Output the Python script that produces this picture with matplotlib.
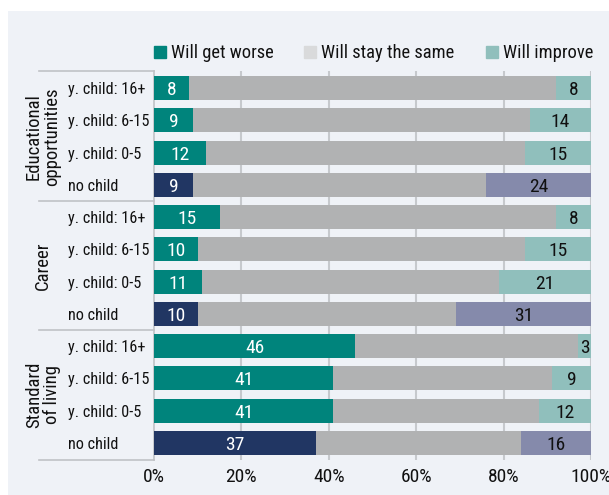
import matplotlib
matplotlib.use("Agg")
import matplotlib.pyplot as plt
from matplotlib.lines import Line2D
from matplotlib.patches import Rectangle
import matplotlib.transforms as mtransforms

plt.rcParams['font.family'] = ['Roboto Condensed', 'Archivo Narrow', 'DejaVu Sans']

groups = ["Educational\nopportunities", "Career", "Standard\nof living"]
categories = ["y. child: 16+", "y. child: 6-15", "y. child: 0-5", "no child"]
worse = [8, 9, 12, 9, 15, 10, 11, 10, 46, 41, 41, 37]
same = [84, 77, 73, 67, 77, 75, 68, 59, 51, 50, 47, 47]
improve = [8, 14, 15, 24, 8, 15, 21, 31, 3, 9, 12, 16]
is_no_child = [False, False, False, True] * 3
series_names = ["Will get worse", "Will stay the same", "Will improve"]
xticks = [0, 20, 40, 60, 80, 100]

TEAL = "#00847c"
NAVY = "#213663"
GREY = "#b1b2b3"
LTEAL = "#90bfbc"
LAV = "#858aab"
BG = "#eff2f7"
INK = "#111111"

W, H = 609, 495
fig = plt.figure(figsize=(W / 100, H / 100), dpi=100, facecolor="white")
fig.patches.append(Rectangle((8 / W, 0), 1 - 8 / W, 1 - 11 / H, transform=fig.transFigure,
                             facecolor=BG, edgecolor="none", zorder=-10))

ax = fig.add_axes([154 / W, 1 - 460 / H, 437 / W, 389 / H])
ax.set_facecolor("none")

n = len(worse)
ys = list(range(n))
c_worse = [NAVY if nc else TEAL for nc in is_no_child]
c_imp = [LAV if nc else LTEAL for nc in is_no_child]
left_same = [w for w in worse]
left_imp = [w + s for w, s in zip(worse, same)]

h = 0.745
ax.barh(ys, worse, height=h, color=c_worse, zorder=3)
ax.barh(ys, same, left=left_same, height=h, color=GREY, zorder=3)
ax.barh(ys, improve, left=left_imp, height=h, color=c_imp, zorder=3)

fs = 14
for i in range(n):
    ax.text(worse[i] / 2, i, str(worse[i]), ha="center", va="center_baseline",
            color="white", fontsize=fs, zorder=5)
    ax.text(left_imp[i] + improve[i] / 2, i, str(improve[i]), ha="center", va="center_baseline",
            color=INK, fontsize=fs, zorder=5)

ax.set_xlim(0, 100)
ax.set_ylim(n - 0.5 + 0.027, -0.527)
ax.set_xticks(xticks)
ax.set_xticklabels([f"{t}%" for t in xticks], fontsize=14, color=INK)
ax.tick_params(axis="x", length=0, pad=5.5)
ax.set_yticks([])
for t in xticks[1:]:
    ax.axvline(t, color="#c6c9cd", lw=1.5, zorder=1)
for s in ["top", "right", "bottom"]:
    ax.spines[s].set_visible(False)
ax.spines["left"].set_color("#c0c2c6")
ax.spines["left"].set_linewidth(1.2)

trans = mtransforms.blended_transform_factory(ax.transAxes, ax.transData)
xl0 = (39 - 154) / 437
for yb in [-0.527, 3.5, 7.5, n - 0.473]:
    ax.plot([xl0, 0], [yb, yb], transform=trans, color="#c0c2c6", lw=1.2, clip_on=False)

xcat = (68 - 154) / 437
for i in range(n):
    ax.text(xcat, i, categories[i % 4], transform=trans, ha="left", va="center_baseline",
            fontsize=11.7, color=INK)

xg = (43 - 154) / 437
for g, name in enumerate(groups):
    ax.text(xg, g * 4 + 1.5, name, transform=trans, rotation=90, ha="center", va="center",
            fontsize=13.5, color=INK, linespacing=1.0, multialignment="center")

handles = [Line2D([], [], marker="s", linestyle="none", markersize=8.6, color=c)
           for c in [TEAL, "#d9dadb", LTEAL]]
leg = ax.legend(handles, series_names, ncol=3, loc="center right",
                bbox_to_anchor=((593 - 154) / 437, 1 + 18 / 389),
                frameon=False, fontsize=13.3, handlelength=0.65, handletextpad=0.27,
                columnspacing=1.68, borderaxespad=0, borderpad=0)
for t in leg.get_texts():
    t.set_color(INK)

fig.savefig("out.png", dpi=100, facecolor="white")
